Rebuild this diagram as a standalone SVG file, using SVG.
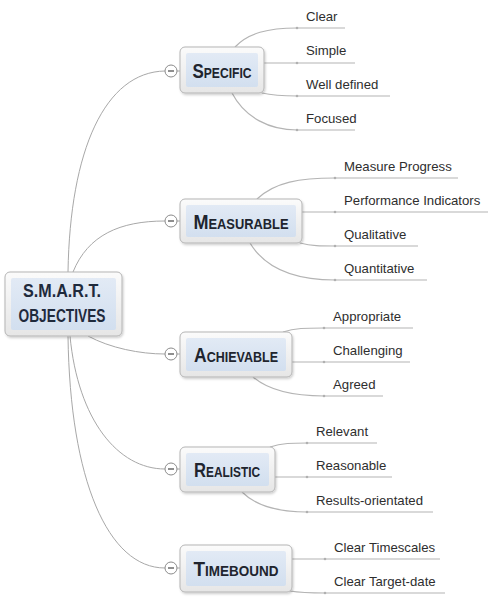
<svg xmlns="http://www.w3.org/2000/svg" width="494" height="605" viewBox="0 0 494 605">
<style>
.conn{fill:none;stroke:#a8a8a8;stroke-width:1}
.sub{fill:none;stroke:#b4b4b4;stroke-width:1.2}
.lbl{font-family:"Liberation Sans",Arial,sans-serif;font-size:13.2px;fill:#2e2e2e}
.main{font-family:"Liberation Sans",Arial,sans-serif;font-weight:bold;fill:#20242e;text-anchor:middle}
.big{font-size:21px}
.sm{font-size:15px}
.outer{fill:url(#og);stroke:#b5b5b5;stroke-width:1}
.inner{fill:url(#ig)}
.btn{fill:#fff;stroke:#8a8a8a;stroke-width:1}
.minus{stroke:#444;stroke-width:1.2}
.dot{fill:#b0b0b0}
.ctr{font-family:"Liberation Sans",Arial,sans-serif;font-weight:bold;font-size:17.5px;fill:#1f2a3c;text-anchor:middle}
</style>
<defs>
<linearGradient id="og" x1="0" y1="0" x2="0" y2="1">
<stop offset="0" stop-color="#fbfbfb"/><stop offset="1" stop-color="#e6e6e6"/>
</linearGradient>
<linearGradient id="ig" x1="0" y1="0" x2="0" y2="1">
<stop offset="0" stop-color="#e2eaf5"/><stop offset="1" stop-color="#d2dfef"/>
</linearGradient>
<filter id="sh" x="-10%" y="-10%" width="130%" height="130%">
<feDropShadow dx="1" dy="1.5" stdDeviation="1.2" flood-color="#000" flood-opacity="0.2"/>
</filter>
</defs>
<rect width="494" height="605" fill="#fff"/>

<g id="connectors">
<path class="conn" d="M68,272 C70,150 105,72 165,71"/>
<path class="conn" d="M73,272 C88,235 120,221 165,221"/>
<path class="conn" d="M88,336 C110,348 140,354 165,354"/>
<path class="conn" d="M70,336 C78,420 118,469 165,469"/>
<path class="conn" d="M68,336 C70,480 108,568 165,568"/>
<path class="conn" d="M177,71 H180 M177,221 H180 M177,354 H180 M177,469 H180 M177,568 H180"/>

<path class="sub" d="M235,47 C248,33 268,28 297,28 H345"/>
<path class="sub" d="M264,63 H355"/>
<path class="sub" d="M262,93 C275,96 285,96 297,96 H390"/>
<path class="sub" d="M232,93 C245,118 270,130 297,130 H355"/>

<path class="sub" d="M257,199 C275,182 300,178 335,178 H458"/>
<path class="sub" d="M302,212 H488"/>
<path class="sub" d="M300,243 C312,246 320,246 335,246 H418"/>
<path class="sub" d="M250,243 C265,268 295,280 335,280 H427"/>

<path class="sub" d="M283,332 C295,328 305,328 324,328 H413"/>
<path class="sub" d="M292,362 H410"/>
<path class="sub" d="M253,377 C268,390 290,396 324,396 H383"/>

<path class="sub" d="M270,447 C282,443 292,443 307,443 H377"/>
<path class="sub" d="M275,477 H392"/>
<path class="sub" d="M242,492 C255,505 275,512 307,512 H433"/>

<path class="sub" d="M292,559 H440"/>
<path class="sub" d="M290,591 C302,593 312,593 325,593 H445"/>

<g class="dot">
<circle cx="297" cy="28" r="1.3"/><circle cx="297" cy="63" r="1.3"/><circle cx="297" cy="96" r="1.3"/><circle cx="297" cy="130" r="1.3"/>
<circle cx="335" cy="178" r="1.3"/><circle cx="335" cy="212" r="1.3"/><circle cx="335" cy="246" r="1.3"/><circle cx="335" cy="280" r="1.3"/>
<circle cx="324" cy="328" r="1.3"/><circle cx="324" cy="362" r="1.3"/><circle cx="324" cy="396" r="1.3"/>
<circle cx="307" cy="443" r="1.3"/><circle cx="307" cy="477" r="1.3"/><circle cx="307" cy="512" r="1.3"/>
<circle cx="325" cy="559" r="1.3"/><circle cx="325" cy="593" r="1.3"/>
</g>
</g>

<g id="central">
<rect class="outer" x="5" y="272" width="117" height="64" rx="5" filter="url(#sh)"/>
<rect class="inner" x="11" y="278" width="105" height="52" rx="2"/>
<text class="ctr" x="62" y="297" textLength="78" lengthAdjust="spacingAndGlyphs">S.M.A.R.T.</text>
<text class="ctr" x="62" y="322" textLength="87" lengthAdjust="spacingAndGlyphs">OBJECTIVES</text>
</g>

<g id="specific">
<rect class="outer" x="180" y="47" width="84" height="46" rx="5" filter="url(#sh)"/>
<rect class="inner" x="186" y="53" width="72" height="34" rx="2"/>
<text class="main" x="222" y="78" textLength="59" lengthAdjust="spacingAndGlyphs"><tspan class="big">S</tspan><tspan class="sm">PECIFIC</tspan></text>
<circle class="btn" cx="171" cy="71" r="6"/><line class="minus" x1="168" y1="71" x2="174" y2="71"/>
</g>

<g id="measurable">
<rect class="outer" x="180" y="199" width="122" height="44" rx="5" filter="url(#sh)"/>
<rect class="inner" x="186" y="205" width="110" height="32" rx="2"/>
<text class="main" x="241" y="229" textLength="95" lengthAdjust="spacingAndGlyphs"><tspan class="big">M</tspan><tspan class="sm">EASURABLE</tspan></text>
<circle class="btn" cx="171" cy="221" r="6"/><line class="minus" x1="168" y1="221" x2="174" y2="221"/>
</g>

<g id="achievable">
<rect class="outer" x="180" y="332" width="112" height="45" rx="5" filter="url(#sh)"/>
<rect class="inner" x="186" y="338" width="100" height="33" rx="2"/>
<text class="main" x="236" y="362" textLength="84" lengthAdjust="spacingAndGlyphs"><tspan class="big">A</tspan><tspan class="sm">CHIEVABLE</tspan></text>
<circle class="btn" cx="171" cy="354" r="6"/><line class="minus" x1="168" y1="354" x2="174" y2="354"/>
</g>

<g id="realistic">
<rect class="outer" x="180" y="447" width="95" height="45" rx="5" filter="url(#sh)"/>
<rect class="inner" x="186" y="453" width="83" height="33" rx="2"/>
<text class="main" x="227" y="477" textLength="66" lengthAdjust="spacingAndGlyphs"><tspan class="big">R</tspan><tspan class="sm">EALISTIC</tspan></text>
<circle class="btn" cx="171" cy="469" r="6"/><line class="minus" x1="168" y1="469" x2="174" y2="469"/>
</g>

<g id="timebound">
<rect class="outer" x="180" y="545" width="112" height="47" rx="5" filter="url(#sh)"/>
<rect class="inner" x="186" y="551" width="100" height="35" rx="2"/>
<text class="main" x="236" y="576" textLength="85" lengthAdjust="spacingAndGlyphs"><tspan class="big">T</tspan><tspan class="sm">IMEBOUND</tspan></text>
<circle class="btn" cx="171" cy="568" r="6"/><line class="minus" x1="168" y1="568" x2="174" y2="568"/>
</g>

<g id="labels">
<text class="lbl" x="306" y="21">Clear</text>
<text class="lbl" x="306" y="55">Simple</text>
<text class="lbl" x="306" y="89">Well defined</text>
<text class="lbl" x="306" y="123">Focused</text>
<text class="lbl" x="344" y="171">Measure Progress</text>
<text class="lbl" x="344" y="205">Performance Indicators</text>
<text class="lbl" x="344" y="239">Qualitative</text>
<text class="lbl" x="344" y="273">Quantitative</text>
<text class="lbl" x="333" y="321">Appropriate</text>
<text class="lbl" x="333" y="355">Challenging</text>
<text class="lbl" x="333" y="389">Agreed</text>
<text class="lbl" x="316" y="436">Relevant</text>
<text class="lbl" x="316" y="470">Reasonable</text>
<text class="lbl" x="316" y="505">Results-orientated</text>
<text class="lbl" x="334" y="552">Clear Timescales</text>
<text class="lbl" x="334" y="586">Clear Target-date</text>
</g>
</svg>
